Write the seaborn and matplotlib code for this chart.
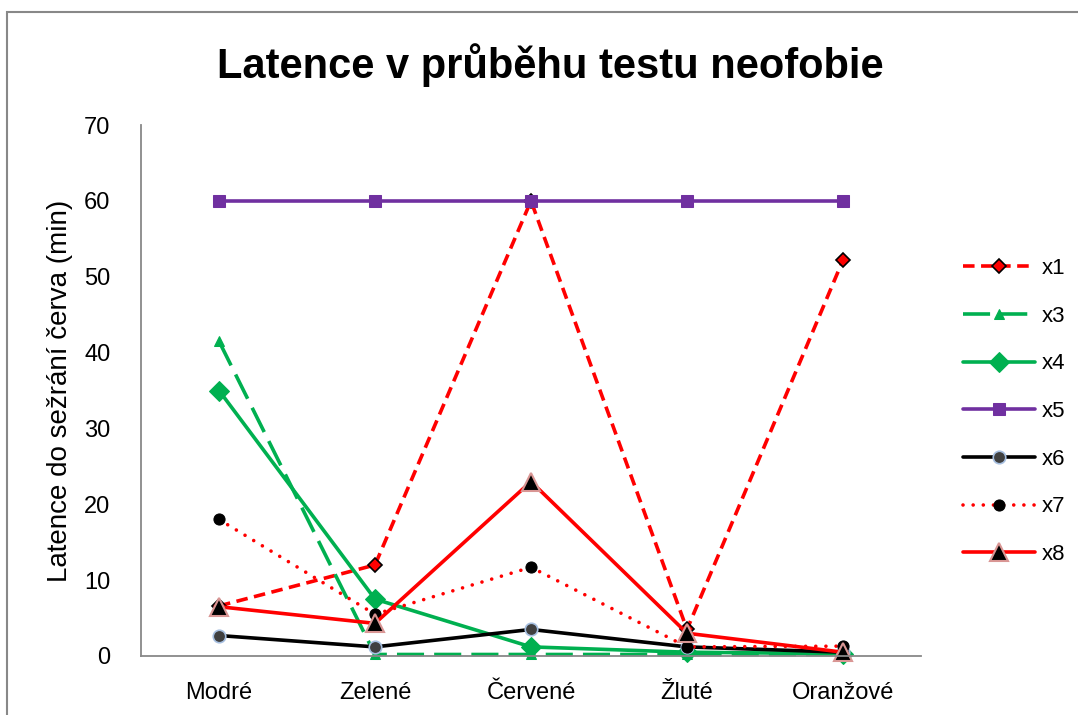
import matplotlib
matplotlib.use("Agg")
import matplotlib.pyplot as plt
import numpy as np
import pandas as pd
import seaborn as sns

categories = ["Modré", "Zelené", "Červené", "Žluté", "Oranžové"]
x1 = [6.6, 12.0, 60.0, 3.5, 52.2]
x3 = [41.5, 0.2, 0.2, 0.2, 0.2]
x4 = [35.0, 7.5, 1.2, 0.5, 0.3]
x5 = [60.0, 60.0, 60.0, 60.0, 60.0]
x6 = [2.7, 1.2, 3.5, 1.2, 0.5]
x7 = [18.0, 5.5, 11.7, 1.2, 1.3]
x8 = [6.5, 4.3, 23.0, 3.0, 0.5]

series = {"x1": x1, "x3": x3, "x4": x4, "x5": x5, "x6": x6, "x7": x7, "x8": x8}

styles = {
    "x1": dict(color="#FF0000", linestyle=(0, (3.2, 1.8)), marker="D", markersize=7,
               markerfacecolor="#FF0000", markeredgecolor="black", markeredgewidth=1.2),
    "x3": dict(color="#00B050", linestyle=(0, (7.5, 2.8)), marker="^", markersize=7,
               markerfacecolor="#00B050", markeredgecolor="#00B050"),
    "x4": dict(color="#00B050", linestyle="-", marker="D", markersize=10,
               markerfacecolor="#00B050", markeredgecolor="#00B050"),
    "x5": dict(color="#7030A0", linestyle="-", marker="s", markersize=9,
               markerfacecolor="#7030A0", markeredgecolor="#7030A0"),
    "x6": dict(color="black", linestyle="-", marker="o", markersize=9,
               markerfacecolor="#404040", markeredgecolor="#A6BFE0", markeredgewidth=1.2),
    "x7": dict(color="#FF0000", linestyle=(0, (0.01, 2.8)), marker="o", markersize=8,
               markerfacecolor="black", markeredgecolor="black"),
    "x8": dict(color="#FF0000", linestyle="-", marker="^", markersize=13,
               markerfacecolor="black", markeredgecolor="#D99694", markeredgewidth=1.5),
}

sns.set_style("white")
plt.rcParams["font.family"] = ["Liberation Sans", "DejaVu Sans"]
plt.rcParams["text.color"] = "black"
plt.rcParams["axes.labelcolor"] = "black"
plt.rcParams["xtick.color"] = "black"
plt.rcParams["ytick.color"] = "black"

fig = plt.figure(figsize=(10.78, 7.15), dpi=100)
ax = fig.add_axes([141 / 1078, 59 / 715, 780 / 1078, 531 / 715])

xpos = np.arange(len(categories))
for name, vals in series.items():
    df = pd.DataFrame({"x": xpos, "y": vals})
    st = dict(styles[name])
    ls = st.pop("linestyle")
    sns.lineplot(data=df, x="x", y="y", ax=ax, label=name, linewidth=2.6,
                 dashes=False, clip_on=False, **st)
    line = ax.lines[-1]
    line.set_linestyle(ls)
    if name == "x7":
        line.set_dash_capstyle("round")

ax.set_xlim(-0.5, len(categories) - 0.5)
ax.set_ylim(0, 70)
ax.set_yticks(range(0, 71, 10))
ax.set_xticks(xpos)
ax.set_xticklabels(categories)
ax.tick_params(axis="both", length=0, labelsize=17, labelcolor="black")
ax.tick_params(axis="x", pad=19)
ax.tick_params(axis="y", pad=22)
ax.set_xlabel("")
ax.set_ylabel("Latence do sežrání červa (min)", fontsize=20, labelpad=8)

for side in ["top", "right"]:
    ax.spines[side].set_visible(False)
for side in ["left", "bottom"]:
    ax.spines[side].set_color("#888888")
    ax.spines[side].set_linewidth(1.3)

ax.legend(loc="upper left", bbox_to_anchor=(943 / 1078, 1 - 238 / 715),
          bbox_transform=fig.transFigure, frameon=False, fontsize=16,
          handlelength=3.25, labelspacing=1.2, handletextpad=0.3)

fig.text(550 / 1078, 1 - 65 / 715, "Latence v průběhu testu neofobie",
         ha="center", va="center", fontsize=30, fontweight="bold")

border = plt.Rectangle((7 / 1078, -0.05), 1.1, 1 - 12 / 715 + 0.05,
                       transform=fig.transFigure, fill=False,
                       edgecolor="#888888", linewidth=1.5)
fig.patches.append(border)

fig.savefig("out.png", dpi=100)
